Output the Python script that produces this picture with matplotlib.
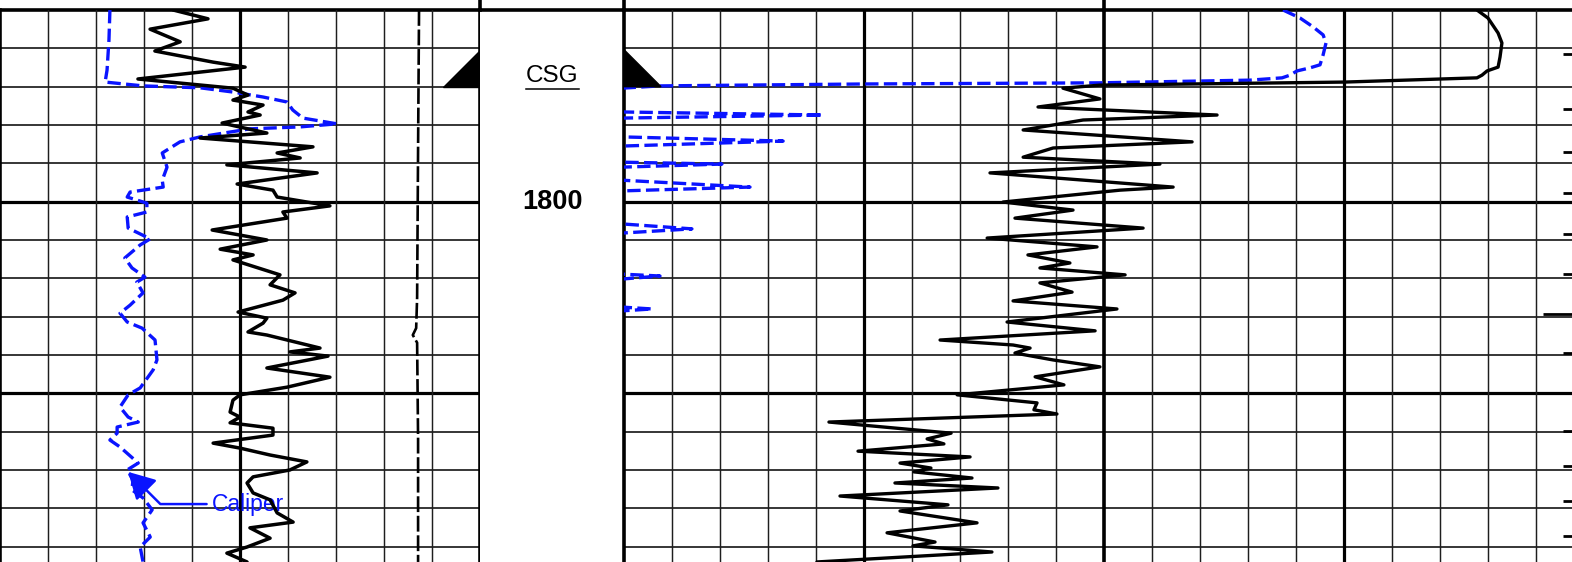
import numpy as np
import matplotlib
matplotlib.use("Agg")
import matplotlib.pyplot as plt
from matplotlib.lines import Line2D
from matplotlib.patches import Polygon
import matplotlib.transforms as mtransforms

plt.rcParams['font.family'] = ['Liberation Sans', 'DejaVu Sans']

# Track 1: gamma ray (API, 0-150)
gr_depth = [1750.0, 1752.3, 1755.0, 1758.3, 1760.7, 1762.3, 1763.6, 1764.9, 1768.0, 1770.4,
            1772.2, 1773.5, 1774.8, 1776.6, 1777.4, 1779.5, 1782.1, 1783.4, 1785.7, 1787.3,
            1788.6, 1790.4, 1792.5, 1795.4, 1797.0, 1798.8, 1801.1, 1802.7, 1804.3, 1807.4,
            1810.0, 1812.4, 1813.9, 1815.2, 1819.1, 1821.7, 1823.8, 1825.7, 1828.8, 1830.4,
            1831.7, 1834.0, 1834.8, 1838.2, 1839.2, 1840.3, 1843.4, 1845.8, 1848.4, 1850.4,
            1851.8, 1854.9, 1856.2, 1857.7, 1859.1, 1860.9, 1863.0, 1864.3, 1866.1, 1867.9,
            1870.0, 1871.8, 1873.4, 1876.0, 1877.8, 1881.2, 1883.6, 1885.1, 1887.8, 1890.1,
            1891.7, 1894.0]
gr_api = [54.1, 65.0, 46.9, 56.3, 48.4, 58.4, 66.6, 76.6, 43.1, 72.8,
          77.5, 72.8, 82.2, 77.5, 81.3, 69.4, 83.4, 62.5, 97.8, 86.6,
          93.8, 70.9, 99.1, 74.1, 85.3, 86.6, 103.1, 88.4, 89.7, 66.3,
          83.4, 68.8, 79.1, 72.8, 87.5, 84.4, 92.2, 88.4, 74.4, 83.4,
          82.2, 77.5, 83.4, 100.0, 90.6, 102.5, 83.4, 103.1, 89.7, 75.0,
          72.8, 71.9, 75.0, 71.9, 85.3, 85.3, 66.6, 75.0, 84.4, 95.9,
          90.6, 79.1, 77.2, 79.1, 84.4, 86.6, 91.6, 78.1, 84.4, 77.2,
          70.9, 77.2]

# Track 1: caliper (in, 6-16)
cal_depth = [1750.0, 1757.8, 1765.7, 1768.8, 1769.8, 1770.3, 1771.4, 1772.7, 1774.0, 1776.1,
             1778.2, 1779.7, 1780.5, 1781.0, 1783.1, 1784.4, 1787.3, 1791.0, 1794.4, 1796.2,
             1797.5, 1798.8, 1800.4, 1802.7, 1804.0, 1806.9, 1809.7, 1811.3, 1814.7, 1817.3,
             1819.7, 1821.0, 1823.8, 1827.0, 1829.1, 1831.4, 1833.0, 1836.1, 1841.3, 1843.9,
             1848.6, 1850.4, 1853.6, 1856.2, 1857.5, 1858.8, 1860.4, 1862.2, 1864.0, 1868.2,
             1870.0, 1872.6, 1875.2, 1877.3, 1880.4, 1883.8, 1887.5, 1890.1, 1894.0]
cal_in = [8.29, 8.27, 8.23, 8.19, 8.98, 10.17, 10.85, 11.48, 11.98, 12.10,
          12.31, 13.02, 12.25, 11.21, 10.17, 9.75, 9.38, 9.48, 9.38, 9.40,
          8.71, 8.65, 9.06, 9.06, 8.65, 8.67, 9.13, 8.92, 8.60, 8.75,
          9.02, 8.85, 8.98, 8.71, 8.50, 8.65, 8.96, 9.23, 9.27, 9.19,
          8.92, 8.67, 8.50, 8.67, 8.88, 8.44, 8.44, 8.29, 8.50, 8.88,
          8.65, 8.77, 8.75, 8.98, 9.17, 8.98, 9.13, 8.92, 8.98]

# Track 1: bit size (in, caliper scale)
bs_depth = [1750.0, 1786.0, 1825.0, 1833.0, 1834.8, 1836.8, 1862.0, 1894.0]
bs_in = [14.73, 14.71, 14.69, 14.67, 14.60, 14.69, 14.71, 14.71]

# Tracks 2-3: black resistivity (ohm-m, 0-40)
rb_depth = [1750.0, 1752.1, 1756.0, 1758.6, 1762.3, 1764.9, 1765.9, 1767.0, 1767.7, 1768.8,
            1769.6, 1770.4, 1773.2, 1775.3, 1777.4, 1778.7, 1781.3, 1784.4, 1786.0, 1788.4,
            1790.2, 1792.5, 1796.2, 1797.0, 1800.1, 1802.2, 1804.3, 1806.9, 1809.5, 1811.8,
            1813.9, 1816.0, 1817.3, 1819.1, 1821.2, 1823.6, 1825.9, 1828.0, 1831.4, 1833.7,
            1836.1, 1837.4, 1838.2, 1839.5, 1841.3, 1843.1, 1845.7, 1847.8, 1850.4, 1852.5,
            1854.3, 1855.4, 1857.5, 1860.4, 1861.9, 1863.2, 1865.1, 1866.6, 1868.2, 1869.5,
            1870.5, 1872.1, 1873.4, 1874.7, 1876.8, 1879.1, 1880.7, 1883.8, 1886.4, 1888.8,
            1889.8, 1891.4, 1894.0]
rb_val = [35.54, 36.00, 36.42, 36.58, 36.50, 36.42, 35.96, 35.75, 35.54, 30.04,
          19.83, 18.29, 19.83, 17.25, 24.71, 19.13, 16.63, 23.67, 17.88, 16.63,
          22.33, 15.25, 22.88, 20.67, 15.79, 18.71, 16.29, 21.63, 15.13, 19.71,
          16.83, 18.58, 17.33, 20.88, 17.33, 18.67, 16.21, 20.54, 15.96, 19.63,
          13.17, 16.21, 16.92, 16.29, 17.88, 19.83, 17.13, 18.33, 13.88, 17.21,
          17.08, 18.04, 8.54, 13.63, 12.63, 13.33, 9.75, 14.42, 11.50, 12.79,
          12.08, 14.50, 11.29, 15.58, 9.00, 13.50, 11.50, 14.71, 10.96, 12.96,
          12.04, 15.33, 8.04]

# Tracks 2-3: blue resistivity (ohm-m, 0-40), pinned at the left edge below casing
rbl_depth = [1750.0, 1752.1, 1754.4, 1756.5, 1758.6, 1761.7, 1764.3, 1765.1, 1765.9, 1767.0,
             1767.7, 1768.3, 1769.0, 1769.3, 1769.8, 1770.4,
             1776.6, 1777.4, 1778.2,
             1783.1, 1784.2, 1785.5,
             1789.7, 1790.2, 1791.0,
             1794.4, 1796.2, 1797.2,
             1805.8, 1807.1, 1808.2,
             1818.9, 1819.4, 1820.2,
             1827.5, 1828.0, 1828.5,
             1894.0]
rbl_val = [27.46, 28.17, 28.71, 29.13, 29.25, 29.13, 29.00, 28.58, 28.04, 27.75,
           27.42, 26.08, 19.83, 10.04, 1.50, -0.10,
           -0.10, 8.29, -0.10,
           -0.10, 6.63, -0.10,
           -0.10, 4.08, -0.10,
           -0.10, 5.25, -0.10,
           -0.10, 2.83, -0.10,
           -0.10, 1.50, -0.10,
           -0.10, 1.17, -0.10,
           -0.10]

# edge tick marks (right side of track 3)
tick_depth = [1761.5, 1775.8, 1787.0, 1797.7, 1808.4, 1818.9, 1829.3, 1839.5, 1849.9,
              1859.8, 1869.0, 1878.1, 1887.2]
tick_long = [False, False, False, False, False, False, True, False, False,
             False, False, False, False]

csg_depth = 1770.0
csg_label = "CSG"
depth_labels = [1800]
caliper_point = (8.67, 1870.5)
caliper_text_pos = (10.42, 1878.9)

# ---------------- layout ----------------
W, H = 1572, 562
TOP_PX = 10
PX_PER_FT = 3.833
TOP_DEPTH = 1750.0
BOT_DEPTH = TOP_DEPTH + (H - TOP_PX) / PX_PER_FT

fig = plt.figure(figsize=(W / 100, H / 100), dpi=100)
fig.patch.set_facecolor('white')

axh = (H - TOP_PX) / H
pos1 = [0, 0, 480 / W, axh]
ax_cal = fig.add_axes(pos1)                       # caliper scale + grid
axd = fig.add_axes([480 / W, 0, 144 / W, axh])    # depth column
ax2 = fig.add_axes([624 / W, 0, 960 / W, axh])    # tracks 2-3
ax_gr = fig.add_axes(pos1, label='gr')            # gamma ray on top
ax_gr.patch.set_visible(False)

THIN = 1.05
THICK = 2.3
BORDER = 2.6
GCOL = '#1e1e1e'

for ax in (ax_cal, axd, ax2, ax_gr):
    ax.set_ylim(BOT_DEPTH, TOP_DEPTH)
    ax.set_xticks([])
    ax.set_yticks([])
    for s in ax.spines.values():
        s.set_visible(False)

ax_cal.set_xlim(6, 16)
ax_gr.set_xlim(0, 150)
ax2.set_xlim(0, 40)
axd.set_xlim(0, 1)

def grid(ax, xs, xmajor, xborders):
    for d in np.arange(1750, 1900, 10):
        major = (d % 50 == 0)
        ax.axhline(d, color='black' if major else GCOL,
                   lw=BORDER if d == 1750 else (THICK if major else 1.25),
                   zorder=1, clip_on=(d != 1750))
    for v in xs:
        if v in xborders:
            ax.axvline(v, color='black', lw=BORDER, zorder=1, clip_on=False)
        elif v in xmajor:
            ax.axvline(v, color='black', lw=THICK, zorder=1)
        else:
            ax.axvline(v, color=GCOL, lw=THIN, zorder=1)

grid(ax_cal, np.arange(6, 17, 1), [11], [6, 16])
grid(ax2, np.arange(0, 41, 2), [10, 30], [0, 20])
axd.axhline(1750, color='black', lw=BORDER, clip_on=False)

# track borders extending into the header strip
strip = mtransforms.blended_transform_factory
for ax, xa in ((ax_cal, 1.0), (ax2, 0.0), (ax2, 0.5)):
    tr = strip(ax.transAxes, fig.transFigure)
    fig.add_artist(Line2D([xa, xa], [axh, 1.0], transform=tr, color='black', lw=BORDER))

# ---------------- curves ----------------
BLUE = '#0a14ff'
DASH = (0, (4.0, 1.6))

ax_cal.plot(cal_in, cal_depth, color=BLUE, lw=2.4, ls=DASH, zorder=3)
ax_cal.plot(bs_in, bs_depth, color='black', lw=1.9, ls=(0, (6, 1.4)), zorder=3)
ax_cal.annotate('Caliper', xy=caliper_point, xytext=caliper_text_pos,
                color=BLUE, fontsize=16.5, ha='left', va='center', zorder=2.5,
                arrowprops=dict(arrowstyle='-|>,head_length=0.9,head_width=0.5',
                                color=BLUE, lw=1.8, mutation_scale=18,
                                connectionstyle='angle,angleA=0,angleB=135,rad=0',
                                relpos=(0, 0.5), shrinkA=2, shrinkB=0))

ax_gr.plot(gr_api, gr_depth, color='black', lw=2.5, zorder=4,
           solid_joinstyle='round', solid_capstyle='round')

ax2.plot(rb_val, rb_depth, color='black', lw=2.4, zorder=4,
         solid_joinstyle='round', solid_capstyle='round')
ax2.plot(rbl_val, rbl_depth, color=BLUE, lw=2.4, ls=DASH, zorder=3)

for d, lg in zip(tick_depth, tick_long):
    ax2.plot([38.3 if lg else 39.13, 40], [d, d], color='black', lw=2.0, zorder=4,
             solid_capstyle='butt')

# casing shoe triangles
TRI_PX = 37
tri_ft = TRI_PX / PX_PER_FT
w1 = TRI_PX * 10 / 480
ax_cal.add_patch(Polygon([[16 - w1, csg_depth], [16, csg_depth], [16, csg_depth - tri_ft]],
                         closed=True, color='black', zorder=5, clip_on=False))
w2 = TRI_PX * 40 / 960
ax2.add_patch(Polygon([[0, csg_depth], [w2, csg_depth], [0, csg_depth - tri_ft]],
                      closed=True, color='black', zorder=5, clip_on=False))

# depth column text
axd.text(0.5, csg_depth - 2.9, csg_label, ha='center', va='center', fontsize=17.5)
axd.plot([0.32, 0.6875], [csg_depth + 0.5, csg_depth + 0.5], color='black', lw=1.1)
for dl in depth_labels:
    axd.text(0.5, dl, str(dl), ha='center', va='center', fontsize=19.5, fontweight='bold')

fig.savefig('out.png', dpi=100, facecolor='white')
